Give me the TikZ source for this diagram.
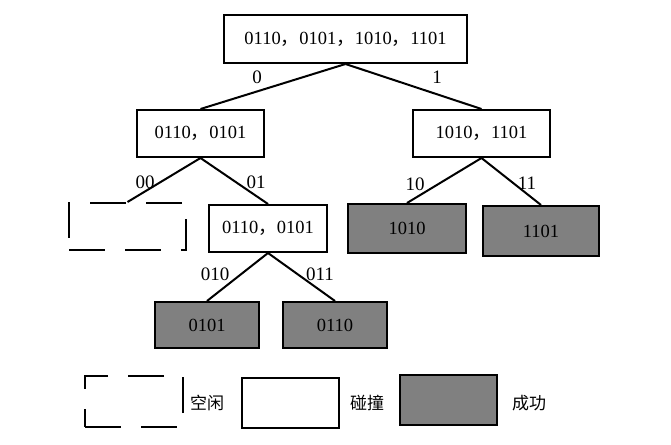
\documentclass[tikz,border=0pt]{standalone}
\usepackage{fontspec}
\setmainfont{Liberation Serif}
\newfontfamily\cjk{Noto Sans CJK SC}
\usepackage{tikz}
\usetikzlibrary{positioning}
\definecolor{okgray}{RGB}{128,128,128}
\newcommand{\zc}{{\cjk ，}}

\begin{document}
\begin{tikzpicture}[x=1pt,y=-1pt,font=\fontsize{18.5}{20}\selectfont,
  busybox/.style={draw, line width=2pt, minimum height=47pt, inner sep=0pt},
  okbox/.style={busybox, fill=okgray},
  idlebox/.style={draw, line width=2pt, minimum height=47pt, dash pattern=on 36pt off 20pt},
  link/.style={line width=2pt},
  bits/.style={font=\fontsize{19}{20}\selectfont, inner sep=1pt},
  keytext/.style={font=\cjk\fontsize{17}{18}\selectfont}]
  \useasboundingbox (0,0) rectangle (671,444);
  % tree
  \node[busybox, minimum width=243pt, minimum height=48pt] (root) at (345.5,39) {0110\zc 0101\zc 1010\zc 1101};
  \node[busybox, minimum width=127pt] (n0) at (200.5,133.5) {0110\zc 0101};
  \node[busybox, minimum width=137pt] (n1) at (481.5,133.5) {1010\zc 1101};
  \node[idlebox, minimum width=117pt] (n00) at (127.5,226.5) {};
  \node[busybox, minimum width=118pt] (n01) at (268,228.5) {0110\zc 0101};
  \node[okbox, minimum width=118pt, minimum height=49pt] (n10) at (407,228.5) {1010};
  \node[okbox, minimum width=116pt, minimum height=50pt] (n11) at (541,231) {1101};
  \node[okbox, minimum width=104pt, minimum height=46pt] (n010) at (207,325) {0101};
  \node[okbox, minimum width=104pt, minimum height=46pt] (n011) at (335,325) {0110};
  % links
  \draw[link] (root.south) -- (n0.north);
  \draw[link] (root.south) -- (n1.north);
  \draw[link] (n0.south) -- (n00.north);
  \draw[link] (n0.south) -- (n01.north);
  \draw[link] (n1.south) -- (n10.north);
  \draw[link] (n1.south) -- (n11.north);
  \draw[link] (n01.south) -- (n010.north);
  \draw[link] (n01.south) -- (n011.north);
  % link labels
  \node[bits] (b0) at (257,77) {0};
  \node[bits] (b1) at (437,77) {1};
  \node[bits] (b00) at (145,182) {00};
  \node[bits] (b01) at (256,182) {01};
  \node[bits] (b10) at (415,184) {10};
  \node[bits] (b11) at (527,183) {11};
  \node[bits] (b010) at (215,274) {010};
  \node[bits] (b011) at (320,274) {011};
  % legend
  \node[idlebox, minimum width=98pt, minimum height=51pt] (keyidle) at (134,401.5) {};
  \node[keytext] (tidle) at (207,403) {空闲};
  \node[busybox, minimum width=97pt, minimum height=50pt] (keybusy) at (290.5,403) {};
  \node[keytext] (tbusy) at (367,403) {碰撞};
  \node[okbox, minimum width=97pt, minimum height=50pt] (keyok) at (448.5,400) {};
  \node[keytext] (tok) at (529,403) {成功};
\end{tikzpicture}
\end{document}
